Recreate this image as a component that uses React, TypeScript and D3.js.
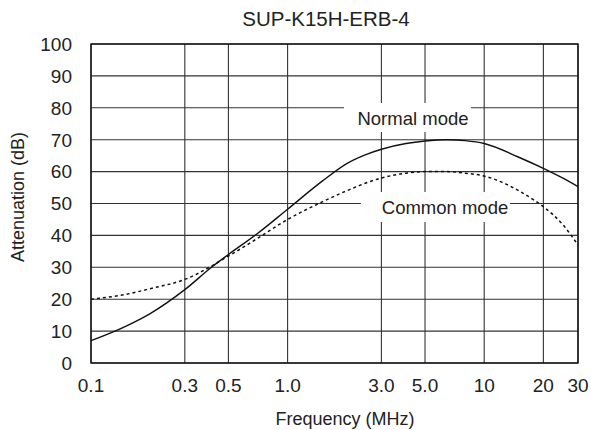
import React, { useEffect, useRef } from 'react'
import * as d3 from 'd3'

// frequency (MHz) vs attenuation (dB)
const normalFreq = [0.1, 0.15, 0.2, 0.3, 0.41, 0.5, 0.7, 1.0, 1.5, 2.0, 2.5, 3.0, 4.0, 5.0, 6.5, 8.0, 10, 15, 20, 25, 30]
const normalDb = [7, 11.5, 15.5, 23, 30, 34, 40.5, 48.2, 57, 62.5, 65.3, 67, 68.8, 69.6, 70, 69.7, 68.8, 64.5, 61, 58, 55.3]

const commonFreq = [0.1, 0.15, 0.2, 0.3, 0.5, 0.7, 1.0, 1.5, 2.0, 3.0, 4.0, 5.0, 6.5, 8.0, 10, 13, 15, 18, 20, 25, 30]
const commonDb = [20, 21.5, 23.3, 26.2, 33.5, 39, 45, 50.5, 54, 58, 59.5, 60, 60, 59.5, 58.6, 56, 54, 51, 49, 43.5, 37]

const xTicks = [0.1, 0.3, 0.5, 1.0, 3.0, 5.0, 10, 20, 30]
const xTickLabels = ['0.1', '0.3', '0.5', '1.0', '3.0', '5.0', '10', '20', '30']
const yTicks = [0, 10, 20, 30, 40, 50, 60, 70, 80, 90, 100]

const W = 591
const H = 430
const margin = { left: 91, right: 13, top: 44, bottom: 67 }
const FONT = '"Liberation Sans", Arial, sans-serif'

export default function App() {
  const svgRef = useRef<SVGSVGElement>(null)

  useEffect(() => {
    if (!svgRef.current) return
    const svg = d3.select(svgRef.current)
    svg.selectAll('*').remove()

    const x = d3.scaleLog().domain([0.1, 30]).range([margin.left, W - margin.right])
    const y = d3.scaleLinear().domain([0, 100]).range([H - margin.bottom, margin.top])

    const g = svg.append('g')

    // grid
    g.selectAll('line.vg')
      .data(xTicks)
      .join('line')
      .attr('x1', d => x(d)).attr('x2', d => x(d))
      .attr('y1', y(0)).attr('y2', y(100))
      .attr('stroke', '#333').attr('stroke-width', 1.1)
    g.selectAll('line.hg')
      .data(yTicks)
      .join('line')
      .attr('x1', x(0.1)).attr('x2', x(30))
      .attr('y1', d => y(d)).attr('y2', d => y(d))
      .attr('stroke', '#333').attr('stroke-width', 1.1)

    g.append('rect')
      .attr('x', x(0.1)).attr('y', y(100))
      .attr('width', x(30) - x(0.1)).attr('height', y(0) - y(100))
      .attr('fill', 'none').attr('stroke', '#111').attr('stroke-width', 1.4)

    // label backgrounds
    g.append('rect').attr('x', 344).attr('y', 103).attr('width', 127).attr('height', 29).attr('fill', '#fff')
    g.append('rect').attr('x', 361).attr('y', 192).attr('width', 149).attr('height', 30).attr('fill', '#fff')

    const line = d3.line<[number, number]>()
      .x(d => x(d[0]))
      .y(d => y(d[1]))
      .curve(d3.curveMonotoneX)

    g.append('path')
      .attr('d', line(normalFreq.map((f, i) => [f, normalDb[i]])))
      .attr('fill', 'none').attr('stroke', '#111').attr('stroke-width', 1.4)

    g.append('path')
      .attr('d', line(commonFreq.map((f, i) => [f, commonDb[i]])))
      .attr('fill', 'none').attr('stroke', '#111').attr('stroke-width', 1.5)
      .attr('stroke-dasharray', '3,3')

    // tick labels
    g.selectAll('text.yt')
      .data(yTicks)
      .join('text')
      .attr('x', 72).attr('y', d => y(d)).attr('dy', '0.36em')
      .attr('text-anchor', 'end')
      .attr('font-family', FONT).attr('font-size', 19).attr('fill', '#222')
      .text(d => String(d))

    g.selectAll('text.xt')
      .data(xTicks)
      .join('text')
      .attr('x', d => x(d)).attr('y', 392)
      .attr('text-anchor', 'middle')
      .attr('font-family', FONT).attr('font-size', 19).attr('fill', '#222')
      .text((d, i) => xTickLabels[i])

    g.append('text')
      .attr('x', 326).attr('y', 26).attr('text-anchor', 'middle')
      .attr('font-family', FONT).attr('font-size', 20.5).attr('fill', '#222')
      .text('SUP-K15H-ERB-4')

    g.append('text')
      .attr('x', 345).attr('y', 425).attr('text-anchor', 'middle')
      .attr('font-family', FONT).attr('font-size', 18).attr('fill', '#222')
      .text('Frequency (MHz)')

    g.append('text')
      .attr('transform', 'translate(24,197) rotate(-90)')
      .attr('text-anchor', 'middle')
      .attr('font-family', FONT).attr('font-size', 18).attr('fill', '#222')
      .text('Attenuation (dB)')

    g.append('text')
      .attr('x', 413).attr('y', 125).attr('text-anchor', 'middle')
      .attr('font-family', FONT).attr('font-size', 18.5).attr('fill', '#222')
      .text('Normal mode')

    g.append('text')
      .attr('x', 445).attr('y', 214).attr('text-anchor', 'middle')
      .attr('font-family', FONT).attr('font-size', 18.5).attr('fill', '#222')
      .text('Common mode')
  }, [])

  return (
    <div style={{ position: 'absolute', left: 0, top: 0 }}>
      <svg ref={svgRef} width={W} height={H} style={{ display: 'block', background: '#fff' }} />
    </div>
  )
}
